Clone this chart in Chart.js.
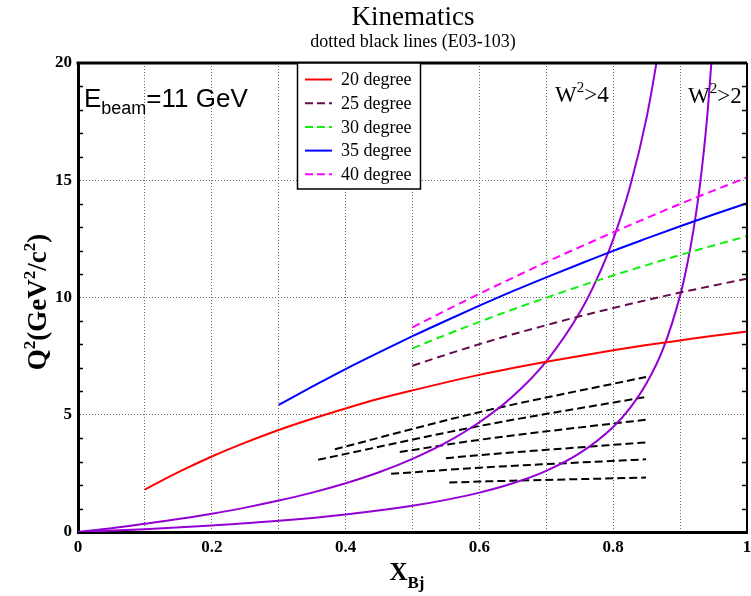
<!DOCTYPE html>
<html>
<head>
<meta charset="utf-8">
<script src="https://cdn.jsdelivr.net/npm/chart.js@4.4.1/dist/chart.umd.min.js"></script>
<style>
  html, body { margin: 0; padding: 0; background: #fff; }
  #wrap { width: 751px; height: 596px; position: relative; }
</style>
</head>
<body>
<div id="wrap"><canvas id="kin"></canvas></div>
<script>
// fixed-angle lines, E = 11 GeV
const angleLabels = ['20 degree', '25 degree', '30 degree', '35 degree', '40 degree'];
const angleColors = ['#ff0000', '#660a4c', '#11ee11', '#0000ff', '#ff00ff'];
const angleDash = [[], [8, 5], [8, 5], [], [8, 5]];

const x20 = [0.1, 0.15, 0.2, 0.25, 0.3, 0.35, 0.4, 0.45, 0.5, 0.55, 0.6, 0.65, 0.7, 0.75, 0.8, 0.85, 0.9, 0.95, 1.0];
const q20 = [1.81, 2.55, 3.22, 3.81, 4.35, 4.83, 5.27, 5.68, 6.04, 6.38, 6.70, 6.99, 7.26, 7.51, 7.75, 7.97, 8.17, 8.37, 8.55];

const xHigh = [0.5, 0.55, 0.6, 0.65, 0.7, 0.75, 0.8, 0.85, 0.9, 0.95, 1.0];
const q25 = [7.09, 7.56, 8.01, 8.43, 8.82, 9.20, 9.55, 9.89, 10.21, 10.51, 10.80];
const q30 = [7.83, 8.41, 8.96, 9.49, 9.99, 10.48, 10.94, 11.38, 11.81, 12.22, 12.61];
const q40 = [8.73, 9.45, 10.16, 10.84, 11.51, 12.15, 12.78, 13.39, 13.99, 14.56, 15.12];

const x35 = [0.3, 0.35, 0.4, 0.45, 0.5, 0.55, 0.6, 0.65, 0.7, 0.75, 0.8, 0.85, 0.9, 0.95, 1.0];
const q35 = [5.42, 6.20, 6.95, 7.66, 8.35, 9.01, 9.65, 10.27, 10.86, 11.43, 11.99, 12.52, 13.04, 13.54, 14.02];

// W^2 limits
const xW4 = [0, 0.05, 0.1, 0.15, 0.2, 0.25, 0.3, 0.35, 0.4, 0.45, 0.5, 0.55, 0.6, 0.65, 0.7, 0.75, 0.775, 0.8, 0.825, 0.85, 0.87];
const qW4 = [0, 0.16, 0.35, 0.55, 0.78, 1.04, 1.34, 1.68, 2.08, 2.55, 3.12, 3.81, 4.68, 5.79, 7.28, 9.36, 10.75, 12.48, 14.71, 17.68, 20.88];
const xW2 = [0, 0.1, 0.2, 0.3, 0.4, 0.5, 0.55, 0.6, 0.65, 0.7, 0.75, 0.8, 0.825, 0.85, 0.875, 0.9, 0.91, 0.92, 0.93, 0.94, 0.95];
const qW2 = [0, 0.12, 0.28, 0.48, 0.75, 1.12, 1.37, 1.68, 2.08, 2.61, 3.36, 4.48, 5.28, 6.35, 7.84, 10.08, 11.32, 12.88, 14.88, 17.55, 21.28];

// E03-103 (dashed black)
const e03X = [
  [0.384, 0.6, 0.849],
  [0.359, 0.6, 0.849],
  [0.481, 0.6, 0.849],
  [0.550, 0.6, 0.849],
  [0.468, 0.6, 0.849],
  [0.555, 0.6, 0.849]
];
const e03Y = [
  [3.53, 5.11, 6.61],
  [3.08, 4.52, 5.76],
  [3.41, 3.93, 4.79],
  [3.15, 3.28, 3.82],
  [2.48, 2.74, 3.10],
  [2.11, 2.15, 2.32]
];

const xTicks = { min: 0, max: 1, step: 0.1 };
const yTicks = { min: 0, max: 20, step: 1, major: 5 };

const serif = '"Liberation Serif", "DejaVu Serif", serif';
const sans = '"Liberation Sans", Arial, sans-serif';

const pts = (xs, ys) => xs.map((v, i) => ({ x: v, y: ys[i] }));

function lineSet(label, xs, ys, color, dash) {
    return {
        label: label,
        data: pts(xs, ys),
        borderColor: color,
        backgroundColor: color,
        borderWidth: 2,
        borderDash: dash,
        pointRadius: 0,
        fill: false,
        cubicInterpolationMode: 'monotone'
    };
}

const datasets = [
    lineSet(angleLabels[0], x20, q20, angleColors[0], angleDash[0]),
    lineSet(angleLabels[1], xHigh, q25, angleColors[1], angleDash[1]),
    lineSet(angleLabels[2], xHigh, q30, angleColors[2], angleDash[2]),
    lineSet(angleLabels[3], x35, q35, angleColors[3], angleDash[3]),
    lineSet(angleLabels[4], xHigh, q40, angleColors[4], angleDash[4]),
    lineSet('W2>4', xW4, qW4, '#9400d3', []),
    lineSet('W2>2', xW2, qW2, '#9400d3', [])
];
e03X.forEach((xs, i) => datasets.push(lineSet('E03-103', xs, e03Y[i], '#000', [8, 4])));

// draws text made of pieces: [text, font, dy]
function richText(ctx, parts, x, y, align) {
    let w = 0;
    parts.forEach(p => { ctx.font = p[1]; w += ctx.measureText(p[0]).width; });
    let cx = align === 'center' ? x - w / 2 : x;
    parts.forEach(p => {
        ctx.font = p[1];
        ctx.fillText(p[0], cx, y + (p[2] || 0));
        cx += ctx.measureText(p[0]).width;
    });
}

const decor = {
    id: 'decor',
    afterDraw(chart) {
        const { ctx, chartArea: a, scales: { y } } = chart;
        ctx.save();
        ctx.fillStyle = '#000';
        ctx.strokeStyle = '#000';
        ctx.textBaseline = 'alphabetic';
        ctx.textAlign = 'left';

        // minor ticks, both sides
        ctx.lineWidth = 1.5;
        for (let v = yTicks.min + yTicks.step; v < yTicks.max; v += yTicks.step) {
            if (v % yTicks.major === 0) continue;
            const py = Math.round(y.getPixelForValue(v)) + 0.5;
            ctx.beginPath();
            ctx.moveTo(a.left, py); ctx.lineTo(a.left + 5, py);
            ctx.moveTo(a.right, py); ctx.lineTo(a.right - 5, py);
            ctx.stroke();
        }

        // top and right frame
        ctx.lineWidth = 3;
        ctx.beginPath();
        ctx.moveTo(a.left - 1.5, a.top); ctx.lineTo(a.right, a.top);
        ctx.stroke();
        ctx.lineWidth = 2;
        ctx.beginPath();
        ctx.moveTo(a.right, a.top); ctx.lineTo(a.right, a.bottom);
        ctx.stroke();

        // legend
        const lx = 297.5, ly = a.top, lw = 123, lh = 126;
        ctx.fillStyle = '#fff';
        ctx.fillRect(lx, ly, lw, lh);
        ctx.lineWidth = 1.5;
        ctx.strokeRect(lx, ly, lw, lh);
        ctx.font = '18px ' + serif;
        ctx.textBaseline = 'middle';
        angleLabels.forEach((lab, i) => {
            const ry = ly + 16.5 + i * 23.7;
            ctx.strokeStyle = angleColors[i];
            ctx.lineWidth = 2;
            ctx.setLineDash(angleDash[i].length ? [8, 4] : []);
            ctx.beginPath();
            ctx.moveTo(305, ry); ctx.lineTo(332, ry);
            ctx.stroke();
            ctx.setLineDash([]);
            ctx.fillStyle = '#000';
            ctx.fillText(lab, 341, ry + 1);
        });
        ctx.textBaseline = 'alphabetic';

        // titles
        ctx.fillStyle = '#000';
        ctx.textAlign = 'center';
        ctx.font = '27px ' + serif;
        ctx.fillText('Kinematics', 413, 25);
        ctx.font = '18px ' + serif;
        ctx.fillText('dotted black lines (E03-103)', 413, 47);
        ctx.textAlign = 'left';

        // annotations
        richText(ctx, [['E', '26px ' + sans], ['beam', '18px ' + sans, 7], ['=11 GeV', '26px ' + sans]], 84, 107, 'left');
        richText(ctx, [['W', '23px ' + serif], ['2', '15px ' + serif, -10], ['>4', '23px ' + serif]], 555, 102, 'left');
        richText(ctx, [['W', '23px ' + serif], ['2', '15px ' + serif, -10], ['>2', '23px ' + serif]], 688, 103, 'left');

        // axis titles
        richText(ctx, [['X', 'bold 25px ' + serif], ['Bj', 'bold 17px ' + serif, 8]], 407, 580, 'center');
        ctx.save();
        ctx.translate(46, 302);
        ctx.rotate(-Math.PI / 2);
        const big = 'bold 27px ' + serif, sup = 'bold 17px ' + serif;
        richText(ctx, [['Q', big], ['2', sup, -11], ['(GeV', big], ['2', sup, -11], ['/c', big], ['2', sup, -11], [')', big]], 0, 0, 'center');
        ctx.restore();

        ctx.restore();
    }
};

const tickFont = { family: serif, size: 17, weight: 'bold' };

new Chart(document.getElementById('kin').getContext('2d'), {
    type: 'line',
    data: { datasets: datasets },
    options: {
        responsive: true,
        maintainAspectRatio: false,
        animation: false,
        layout: { padding: { top: 63, right: 4, left: 0, bottom: 0 } },
        plugins: {
            legend: { display: false },
            tooltip: { enabled: false },
            title: { display: false }
        },
        scales: {
            x: {
                type: 'linear',
                min: xTicks.min,
                max: xTicks.max,
                ticks: {
                    stepSize: xTicks.step,
                    autoSkip: false,
                    maxRotation: 0,
                    padding: 5,
                    color: '#000',
                    font: tickFont,
                    callback: (v) => {
                        const k = Math.round(v * 10);
                        return k % 2 === 0 ? String(k / 10) : '';
                    }
                },
                grid: {
                    drawTicks: false,
                    lineWidth: 1,
                    color: (c) => {
                        if (!c.tick) return 'rgba(0,0,0,0)';
                        const k = Math.round(c.tick.value * 10);
                        return (k === 0 || k === 10) ? 'rgba(0,0,0,0)' : '#666';
                    }
                },
                border: { display: true, color: '#000', width: 3, dash: [1, 2] },
                afterFit: (s) => { s.height = 64; s.paddingLeft = 0; s.paddingRight = 0; }
            },
            y: {
                type: 'linear',
                min: yTicks.min,
                max: yTicks.max,
                ticks: {
                    stepSize: yTicks.step,
                    autoSkip: false,
                    padding: 6,
                    color: '#000',
                    font: tickFont,
                    callback: (v) => (v % yTicks.major === 0 ? String(v) : '')
                },
                grid: {
                    drawTicks: false,
                    lineWidth: 1,
                    color: (c) => {
                        if (!c.tick) return 'rgba(0,0,0,0)';
                        const v = c.tick.value;
                        return (v % yTicks.major === 0 && v > yTicks.min && v < yTicks.max) ? '#666' : 'rgba(0,0,0,0)';
                    }
                },
                border: { display: true, color: '#000', width: 3, dash: [1, 2] },
                afterFit: (s) => { s.width = 78; s.paddingTop = 0; s.paddingBottom = 0; }
            }
        }
    },
    plugins: [decor]
});
</script>
</body>
</html>
